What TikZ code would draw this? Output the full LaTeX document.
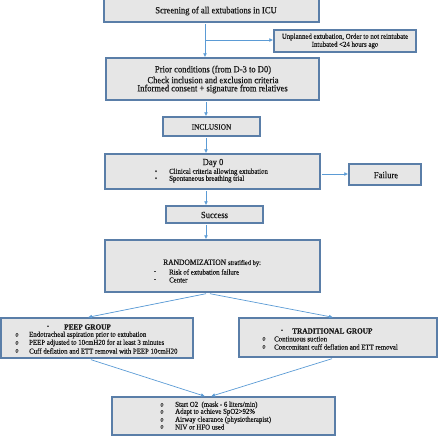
\documentclass[tikz,border=0pt]{standalone}
\usepackage{fontspec}
\setmainfont{Liberation Serif}[FakeBold=0.6, FakeStretch=0.91]
\usetikzlibrary{arrows.meta}
\definecolor{boxfill}{HTML}{E6E6E6}
\definecolor{boxline}{HTML}{5A7EA8}
\definecolor{arrowc}{HTML}{5B9BD5}
\definecolor{txt}{HTML}{1A1A1A}
\newcommand\fsz[1]{\fontsize{#1}{#1}\selectfont}
\begin{document}
\begin{tikzpicture}[x=1pt,y=-1pt,
  box/.style={draw=boxline, fill=boxfill, line width=1.4pt, inner sep=0pt},
  arr/.style={draw=arrowc, line width=0.7pt, -{Latex[length=4pt,width=3.8pt]}},
  lbl/.style={inner sep=0pt, text=txt},
  lst/.style={inner sep=0pt, text=txt, anchor=west},
  big/.style={font=\fsz{9.4}},
  mid/.style={font=\fsz{8.1}},
  sml/.style={font=\fsz{7.5}},
  hdr/.style={font=\fsz{8}\bfseries},
  bul/.style={inner sep=0pt, text=txt, font=\fsz{6.6}}]
\useasboundingbox (0,0) rectangle (440,436);
% boxes
\node[box, minimum width=215, minimum height=23] (screen) at (211.5,10.5) {};
\node[box, minimum width=142, minimum height=22] (unpl) at (345,41) {};
\node[box, minimum width=213, minimum height=42] (prior) at (212.5,79) {};
\node[box, minimum width=97, minimum height=19] (incl) at (211.5,126.5) {};
\node[box, minimum width=215, minimum height=35] (day) at (212.5,171.5) {};
\node[box, minimum width=72, minimum height=21] (fail) at (385,174.5) {};
\node[box, minimum width=97, minimum height=17] (succ) at (214.5,214.5) {};
\node[box, minimum width=215, minimum height=52] (rand) at (212.5,266) {};
\node[box, minimum width=192, minimum height=40] (peep) at (97,338) {};
\node[box, minimum width=198, minimum height=39] (trad) at (338,337.5) {};
\node[box, minimum width=223, minimum height=38] (fin) at (223.5,416) {};
% texts
\node[lbl,big] (tscreen) at (216,11) {Screening of all extubations in ICU};
\node[lbl,sml] (tu1) at (345,37) {Unplanned extubation, Order to not reintubate};
\node[lbl,sml] (tu2) at (345,45) {Intubated <24 hours ago};
\node[lbl,big] (tp1) at (213,70) {Prior conditions (from D-3 to D0)};
\node[lbl,big] (tp2) at (213,80) {Check inclusion and exclusion criteria};
\node[lbl,big] (tp3) at (212.5,89) {Informed consent + signature from relatives};
\node[lbl,mid] (tincl) at (211.5,127) {INCLUSION};
\node[lbl,big] (tday) at (213,163) {Day 0};
\node[bul] (bd1) at (156,172) {•};
\node[bul] (bd2) at (156,179) {•};
\node[lst,sml] (td1) at (169,172) {Clinical criteria allowing extubation};
\node[lst,sml] (td2) at (169,179) {Spontaneous breathing trial};
\node[lbl,big] (tfail) at (386,175) {Failure};
\node[lbl,big] (tsucc) at (214.5,215) {Success};
\node[lst] (tr0) at (163,263) {\fsz{8.25}RANDOMIZATION \fsz{7.1}stratified by:};
\node[bul] (dr1) at (155,272) {-};
\node[bul] (dr2) at (155,280) {-};
\node[lst,sml] (tr1) at (169,272) {Risk of extubation failure};
\node[lst,sml] (tr2) at (169,280) {Center};
\node[bul,hdr] (dp) at (48,327) {-};
\node[lst,hdr] (tpeep) at (64,327) {PEEP GROUP};
\node[bul] (bp1) at (17,335) {o};
\node[bul] (bp2) at (17,343) {o};
\node[bul] (bp3) at (17,351) {o};
\node[lst,sml] (tp4) at (29,335) {Endotracheal aspiration prior to extubation};
\node[lst,sml] (tp5) at (29,343) {PEEP adjusted to 10cmH20 for at least 3 minutes};
\node[lst,sml] (tp6) at (29,351) {Cuff deflation and ETT removal with PEEP 10cmH20};
\node[bul,hdr] (dt) at (282,331) {-};
\node[lst,hdr] (ttrad) at (292,331) {TRADITIONAL GROUP};
\node[bul] (bt1) at (264,339) {o};
\node[bul] (bt2) at (264,347) {o};
\node[lst,sml] (tt1) at (274,339) {Continuous suction};
\node[lst,sml] (tt2) at (274,347) {Concomitant cuff deflation and ETT removal};
\node[bul] (bf1) at (162,405) {o};
\node[bul] (bf2) at (162,412) {o};
\node[bul] (bf3) at (162,420) {o};
\node[bul] (bf4) at (162,427) {o};
\node[lst,sml] (tf1) at (175,405) {Start O2\ \ (mask - 6 liters/min)};
\node[lst,sml] (tf2) at (175,412) {Adapt to achieve SpO2>92\%};
\node[lst,sml] (tf3) at (175,420) {Airway clearance (physiotherapist)};
\node[lst,sml] (tf4) at (175,427) {NIV or HFO used};
% connectors
\coordinate (br) at (205,40);
\draw[arr] (205,0 |- screen.south) ++(0,1.5) -- (205,0 |- prior.north);
\draw[arr] (br) -- (unpl.west |- br);
\draw[arr] (206,0 |- prior.south) ++(0,1.5) -- (206,0 |- incl.north);
\draw[arr] (206,0 |- incl.south) ++(0,1.5) -- (206,0 |- day.north);
\draw[arr] (day.east |- 0,174) ++(1.5,0) -- (fail.west |- 0,174);
\draw[arr] (206,0 |- day.south) ++(0,1.5) -- (206,0 |- succ.north);
\draw[arr] (206,0 |- succ.south) ++(0,1.5) -- (206,0 |- rand.north);
\draw[arr] (206,0 |- rand.south) ++(0,1) -- (88,0 |- peep.north);
\draw[arr] (210,0 |- rand.south) ++(0,1) -- (333,0 |- trad.north);
\draw[arr] (91,0 |- peep.south) ++(0,1) -- (205,0 |- fin.north);
\draw[arr] (332,0 |- trad.south) ++(0,1) -- (211,0 |- fin.north);
\end{tikzpicture}
\end{document}
